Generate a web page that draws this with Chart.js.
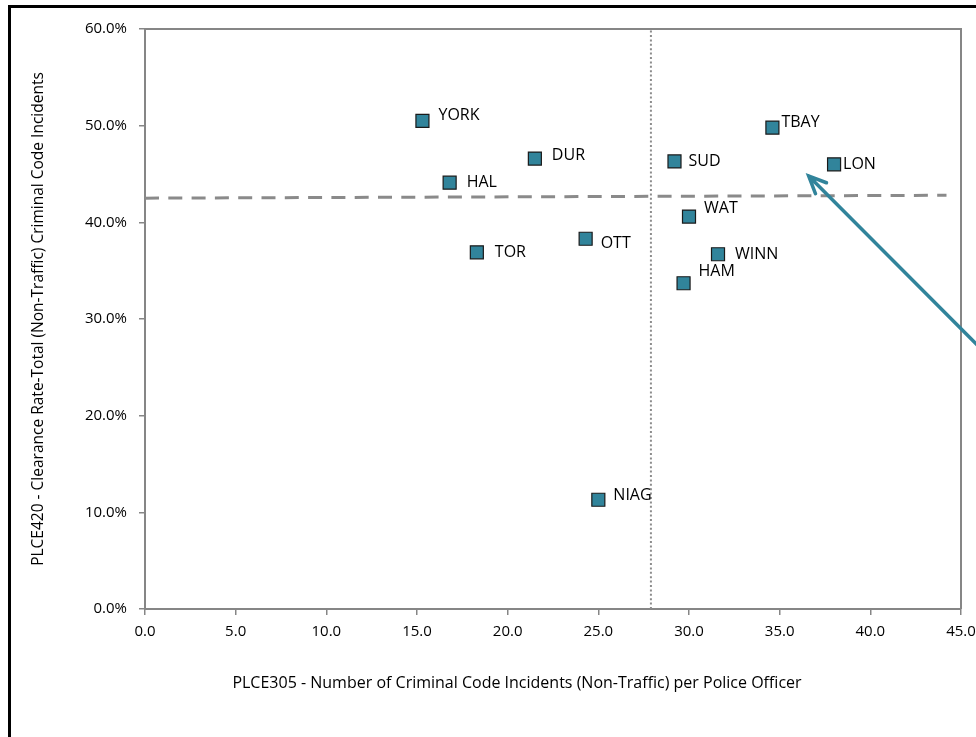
<!DOCTYPE html>
<html>
<head>
<meta charset="utf-8">
<script src="https://cdn.jsdelivr.net/npm/chart.js@4.4.1/dist/chart.umd.min.js"></script>
<style>
  html, body { margin: 0; padding: 0; background: #fff; overflow: hidden; }
  #wrap { width: 976px; height: 737px; position: relative; }
</style>
</head>
<body>
<div id="wrap"><canvas id="chart"></canvas></div>
<script>
// Services and their values
const services = ['YORK', 'DUR', 'HAL', 'TOR', 'OTT', 'NIAG', 'SUD', 'TBAY', 'LON', 'WAT', 'WINN', 'HAM'];
const incidentsPerOfficer = [15.3, 21.5, 16.8, 18.3, 24.3, 25.0, 29.2, 34.6, 38.0, 30.0, 31.6, 29.7];
const clearanceRate = [0.505, 0.466, 0.441, 0.369, 0.383, 0.113, 0.463, 0.498, 0.460, 0.406, 0.367, 0.337];

// Reference lines
const medianIncidents = 27.9;
const avgLineX = [0, 44.2];
const avgLineY = [0.425, 0.428];

// Arrow annotation (data coordinates)
const arrowFrom = [45.9, 0.273];
const arrowTo = [36.6, 0.448];

const xTicks = [0, 5, 10, 15, 20, 25, 30, 35, 40, 45];
const yTicks = [0, 0.1, 0.2, 0.3, 0.4, 0.5, 0.6];

const xTitle = 'PLCE305 - Number of Criminal Code Incidents (Non-Traffic) per Police Officer';
const yTitle = 'PLCE420 - Clearance Rate-Total (Non-Traffic) Criminal Code Incidents';

// label nudges in px relative to each marker (dx, dy)
const labelNudge = {
    YORK: [16, -5], DUR: [17, -3], HAL: [17, 0], TOR: [18, 0], OTT: [15, 5],
    NIAG: [15, -4], SUD: [14, 0], TBAY: [9, -5], LON: [9, 0], WAT: [15, -8],
    WINN: [17, 0], HAM: [15, -12]
};

const teal = '#31849B';
const axisGrey = '#868686';
const FONT = "'Open Sans', sans-serif";

const points = services.map((s, i) => ({ x: incidentsPerOfficer[i], y: clearanceRate[i] }));

// white background + black frame
const framePlugin = {
    id: 'frame',
    beforeDraw(chart) {
        const ctx = chart.ctx;
        ctx.save();
        ctx.fillStyle = '#fff';
        ctx.fillRect(0, 0, chart.width, chart.height);
        ctx.strokeStyle = '#000';
        ctx.lineWidth = 3;
        ctx.beginPath();
        ctx.moveTo(9.5, chart.height + 5);
        ctx.lineTo(9.5, 6.5);
        ctx.lineTo(chart.width + 5, 6.5);
        ctx.stroke();
        ctx.restore();
    },
    beforeDatasetsDraw(chart) {
        // top and right edges of the plot area
        const { ctx, chartArea: a } = chart;
        ctx.save();
        ctx.strokeStyle = axisGrey;
        ctx.lineWidth = 2;
        ctx.beginPath();
        ctx.moveTo(a.left, a.top);
        ctx.lineTo(a.right, a.top);
        ctx.lineTo(a.right, a.bottom);
        ctx.stroke();
        ctx.restore();
    },
    afterDraw(chart) {
        // x axis title sits a bit left of the plot centre, as in the source
        const { ctx, chartArea: a } = chart;
        ctx.save();
        ctx.font = '16px ' + FONT;
        ctx.fillStyle = '#000';
        ctx.textAlign = 'center';
        ctx.textBaseline = 'middle';
        ctx.fillText(xTitle, a.left + 372, a.bottom + 74);
        ctx.restore();
    }
};

// service names next to markers
const labelPlugin = {
    id: 'pointLabels',
    afterDatasetsDraw(chart) {
        const ctx = chart.ctx;
        const meta = chart.getDatasetMeta(2);
        ctx.save();
        ctx.font = '16px ' + FONT;
        ctx.fillStyle = '#000';
        ctx.textBaseline = 'middle';
        ctx.textAlign = 'left';
        meta.data.forEach((pt, i) => {
            const n = labelNudge[services[i]] || [15, 0];
            ctx.fillText(services[i], pt.x + n[0], pt.y + n[1]);
        });
        ctx.restore();
    }
};

// arrow callout
const arrowPlugin = {
    id: 'arrow',
    afterDraw(chart) {
        const { ctx, scales } = chart;
        const x1 = scales.x.getPixelForValue(arrowFrom[0]);
        const y1 = scales.y.getPixelForValue(arrowFrom[1]);
        const x2 = scales.x.getPixelForValue(arrowTo[0]);
        const y2 = scales.y.getPixelForValue(arrowTo[1]);
        const ang = Math.atan2(y2 - y1, x2 - x1);
        const head = 19;
        ctx.save();
        ctx.strokeStyle = teal;
        ctx.lineWidth = 3.5;
        ctx.lineCap = 'round';
        ctx.beginPath();
        ctx.moveTo(x1, y1);
        ctx.lineTo(x2, y2);
        ctx.moveTo(x2 - head * Math.cos(ang - 0.42), y2 - head * Math.sin(ang - 0.42));
        ctx.lineTo(x2, y2);
        ctx.lineTo(x2 - head * Math.cos(ang + 0.42), y2 - head * Math.sin(ang + 0.42));
        ctx.stroke();
        ctx.restore();
    }
};

new Chart(document.getElementById('chart'), {
    type: 'scatter',
    data: {
        datasets: [
            {
                type: 'line',
                data: [{ x: medianIncidents, y: 0 }, { x: medianIncidents, y: 0.6 }],
                borderColor: '#8c8c8c',
                borderWidth: 2,
                borderDash: [2, 2.4],
                pointRadius: 0,
                fill: false
            },
            {
                type: 'line',
                data: avgLineX.map((x, i) => ({ x: x, y: avgLineY[i] })),
                borderColor: '#8a8a8a',
                borderWidth: 3,
                borderDash: [14, 9.3],
                pointRadius: 0,
                fill: false
            },
            {
                data: points,
                pointStyle: 'rect',
                pointRadius: 9.2,
                pointHoverRadius: 9.2,
                backgroundColor: teal,
                borderColor: '#1a1a1a',
                borderWidth: 1.2
            }
        ]
    },
    options: {
        responsive: true,
        maintainAspectRatio: false,
        animation: false,
        events: [],
        layout: { padding: { left: 25, right: 15, top: 29, bottom: 42 } },
        plugins: {
            legend: { display: false },
            tooltip: { enabled: false }
        },
        scales: {
            x: {
                type: 'linear',
                min: 0,
                max: 45,
                afterBuildTicks: (s) => { s.ticks = xTicks.map(v => ({ value: v })); },
                afterFit: (s) => { s.height = 86; s.paddingRight = 0; s.paddingLeft = 0; },
                ticks: {
                    callback: (v) => v.toFixed(1),
                    color: '#000',
                    font: { family: FONT, size: 15 },
                    padding: 8,
                    maxRotation: 0
                },
                grid: { drawOnChartArea: false, tickLength: 6, color: axisGrey, lineWidth: 1.5 },
                border: { color: axisGrey, width: 2 },
                title: { display: false }
            },
            y: {
                type: 'linear',
                min: 0,
                max: 0.6,
                afterBuildTicks: (s) => { s.ticks = yTicks.map(v => ({ value: v })); },
                afterFit: (s) => { s.width = 120; },
                ticks: {
                    callback: (v) => (v * 100).toFixed(1) + '%',
                    color: '#000',
                    font: { family: FONT, size: 15 },
                    padding: 12
                },
                grid: { drawOnChartArea: false, tickLength: 6, color: axisGrey, lineWidth: 1.5 },
                border: { color: axisGrey, width: 2 },
                title: {
                    display: true,
                    text: yTitle,
                    color: '#000',
                    font: { family: FONT, size: 15.5 }
                }
            }
        }
    },
    plugins: [framePlugin, labelPlugin, arrowPlugin]
});
</script>
</body>
</html>
